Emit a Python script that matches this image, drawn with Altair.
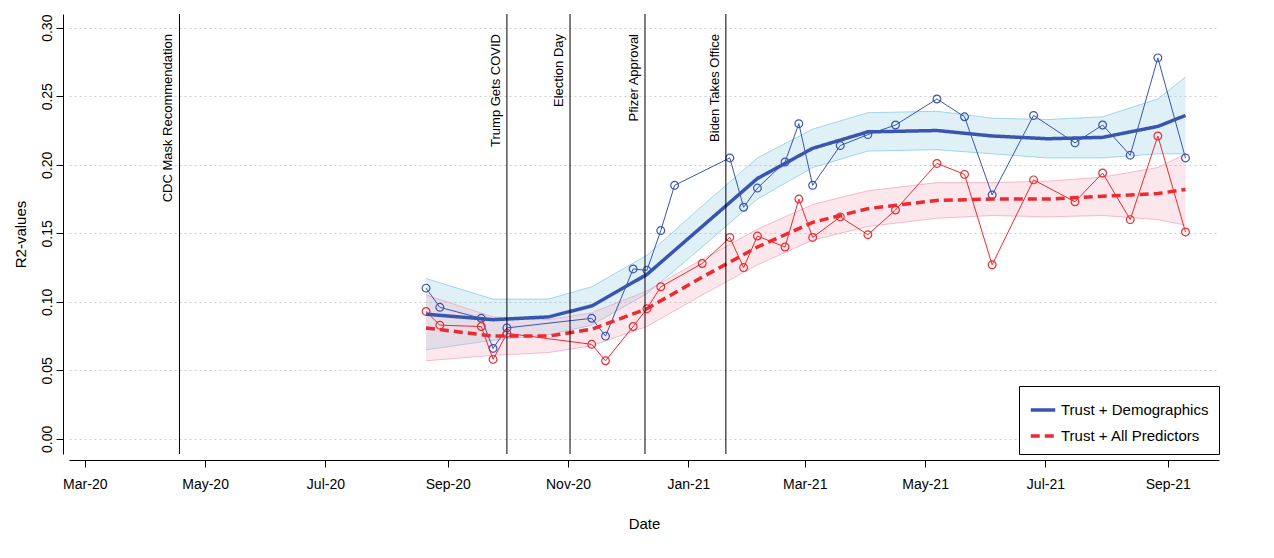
import altair as alt
import pandas as pd

blue_dates = ["2020-08-21","2020-08-28","2020-09-18","2020-09-24","2020-10-01","2020-11-13","2020-11-20","2020-12-04","2020-12-11","2020-12-18","2020-12-25","2021-01-22","2021-01-29","2021-02-05","2021-02-19","2021-02-26","2021-03-05","2021-03-19","2021-04-02","2021-04-16","2021-05-07","2021-05-21","2021-06-04","2021-06-25","2021-07-16","2021-07-30","2021-08-13","2021-08-27","2021-09-10"]
blue_vals = [0.110,0.096,0.088,0.066,0.081,0.088,0.075,0.124,0.123,0.152,0.185,0.205,0.169,0.183,0.202,0.230,0.185,0.214,0.222,0.229,0.248,0.235,0.178,0.236,0.216,0.229,0.207,0.278,0.205]
red_dates = ["2020-08-21","2020-08-28","2020-09-18","2020-09-24","2020-10-01","2020-11-13","2020-11-20","2020-12-04","2020-12-11","2020-12-18","2021-01-08","2021-01-22","2021-01-29","2021-02-05","2021-02-19","2021-02-26","2021-03-05","2021-03-19","2021-04-02","2021-04-16","2021-05-07","2021-05-21","2021-06-04","2021-06-25","2021-07-16","2021-07-30","2021-08-13","2021-08-27","2021-09-10"]
red_vals = [0.093,0.083,0.082,0.058,0.077,0.069,0.057,0.082,0.095,0.111,0.128,0.147,0.125,0.148,0.140,0.175,0.147,0.162,0.149,0.167,0.201,0.193,0.127,0.189,0.173,0.194,0.160,0.221,0.151]

smooth_dates = ["2020-08-21","2020-09-24","2020-10-22","2020-11-13","2020-12-11","2021-01-08","2021-02-05","2021-03-05","2021-04-02","2021-05-07","2021-06-04","2021-07-02","2021-07-30","2021-08-27","2021-09-10"]
blue_fit = [0.091,0.087,0.089,0.097,0.120,0.155,0.190,0.212,0.224,0.225,0.221,0.219,0.220,0.228,0.236]
blue_se = [0.026,0.015,0.013,0.014,0.014,0.015,0.015,0.014,0.014,0.014,0.013,0.014,0.015,0.020,0.028]
red_fit = [0.081,0.075,0.075,0.080,0.095,0.118,0.140,0.158,0.168,0.174,0.175,0.175,0.177,0.179,0.182]
red_se = [0.024,0.014,0.012,0.012,0.013,0.013,0.013,0.013,0.013,0.013,0.012,0.013,0.014,0.019,0.026]

event_dates = ["2020-04-18","2020-10-01","2020-11-02","2020-12-10","2021-01-20"]
event_labels = ["CDC Mask Recommendation","Trump Gets COVID","Election Day","Pfizer Approval","Biden Takes Office"]

S1, S2 = "Trust + Demographics", "Trust + All Predictors"
BLUE, RED = "#3a55ad", "#ee2a30"

pts = pd.concat([pd.DataFrame({"date": blue_dates, "v": blue_vals, "s": S1}),
                 pd.DataFrame({"date": red_dates, "v": red_vals, "s": S2})])
bfit = pd.DataFrame({"date": smooth_dates, "v": blue_fit, "lo": [a-b for a, b in zip(blue_fit, blue_se)], "hi": [a+b for a, b in zip(blue_fit, blue_se)], "s": S1})
rfit = pd.DataFrame({"date": smooth_dates, "v": red_fit, "lo": [a-b for a, b in zip(red_fit, red_se)], "hi": [a+b for a, b in zip(red_fit, red_se)], "s": S2})
fit = pd.concat([bfit, rfit])
ev = pd.DataFrame({"date": event_dates, "label": event_labels})

xs = alt.Scale(domain=["2020-02-22", "2021-09-27"], type="time")
ys = alt.Scale(domain=[-0.011, 0.31], nice=False, zero=False)
col = alt.Scale(domain=[S1, S2], range=[BLUE, RED])
X = alt.X("date:T", scale=xs, title="Date",
          axis=alt.Axis(format="%b-%y", tickCount={"interval": "month", "step": 2}, grid=False,
                        labelFontSize=14, titleFontSize=15, titleFontWeight="normal", labelColor="black",
                        titleColor="black", domainColor="black", tickColor="black", labelPadding=10,
                        titlePadding=25, offset=6, tickSize=7, labelFlush=False))
yaxis = alt.Axis(values=[0, 0.05, 0.1, 0.15, 0.2, 0.25, 0.3], format=".2f", labelAngle=270,
                 labelAlign="center", labelBaseline="bottom", labelFontSize=14, titleFontSize=15,
                 titleFontWeight="normal", gridDash=[2, 3], gridColor="#cccccc", labelColor="black",
                 titleColor="black", domainColor="black", tickColor="black", offset=6, tickSize=7,
                 titlePadding=12)
Y = alt.Y("v:Q", scale=ys, title="R2-values", axis=yaxis)
C = alt.Color("s:N", scale=col, title=None,
              legend=alt.Legend(orient="bottom-right", symbolType="stroke", symbolStrokeWidth=3.5,
                                symbolSize=600, labelFontSize=15, labelColor="black",
                                strokeColor="black", padding=10, fillColor="white", offset=0,
                                labelLimit=300, rowPadding=4))

def bands(df, c):
    a = alt.Chart(df).mark_area(opacity=0.25, color=c).encode(
        x=X, y=alt.Y("lo:Q", scale=ys, title="R2-values", axis=yaxis), y2="hi:Q")
    l1 = alt.Chart(df).mark_line(strokeWidth=1, opacity=0.7, color=c).encode(x=X, y=alt.Y("lo:Q", scale=ys, title="R2-values", axis=yaxis))
    l2 = alt.Chart(df).mark_line(strokeWidth=1, opacity=0.7, color=c).encode(x=X, y=alt.Y("hi:Q", scale=ys, title="R2-values", axis=yaxis))
    return [a, l1, l2]

ptline = alt.Chart(pts).mark_line(strokeWidth=1).encode(x=X, y=Y, color=C)
ptcirc = alt.Chart(pts).mark_point(size=60, filled=False, strokeWidth=1.2, opacity=1).encode(x=X, y=Y, color=C)
fitline = alt.Chart(fit).mark_line(strokeWidth=3.5).encode(
    x=X, y=Y, color=C,
    strokeDash=alt.StrokeDash("s:N", scale=alt.Scale(domain=[S1, S2], range=[[1, 0], [9, 5]]), legend=None))
rules = alt.Chart(ev).mark_rule(color="black", strokeWidth=1).encode(x=X)
texts = alt.Chart(ev).mark_text(angle=270, align="right", baseline="bottom", dx=-12, dy=-4,
                                fontSize=13, color="black").encode(x=X, y=alt.value(8), text="label:N")

chart = alt.layer(*bands(bfit, "#7fc8e0"), *bands(rfit, "#f4a0b8"), ptline, ptcirc, fitline, rules, texts).properties(
    width=1150, height=440).configure_view(stroke=None).configure_axis(labelFont="Liberation Sans", titleFont="Liberation Sans").configure_text(font="Liberation Sans").configure_legend(labelFont="Liberation Sans")
chart.save("out.html", embed_options={"renderer": "svg", "actions": False})
